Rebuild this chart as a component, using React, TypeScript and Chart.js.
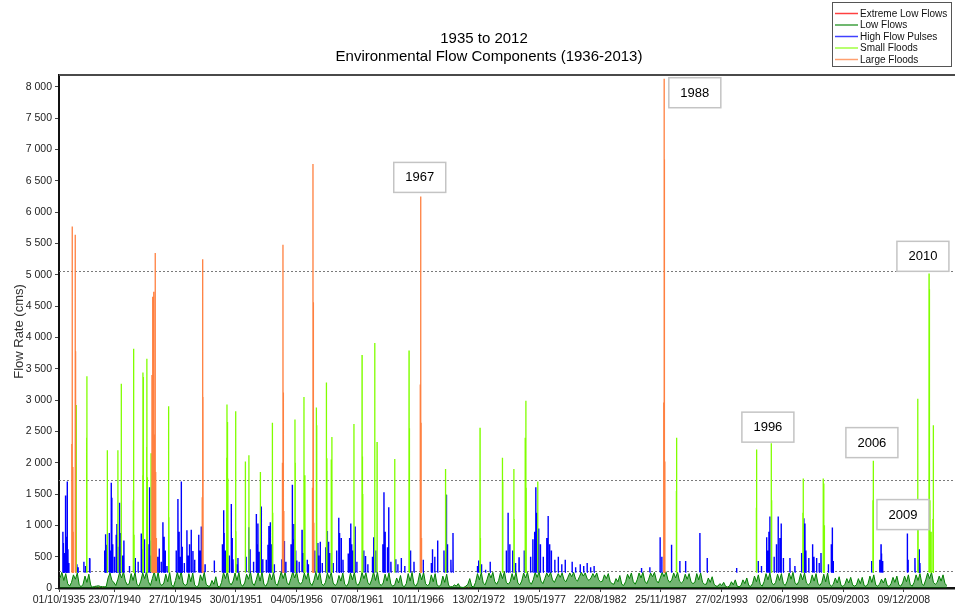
import React, { useEffect, useRef } from 'react';
import { Chart, registerables } from 'chart.js';

Chart.register(...registerables);

// ---------- text ----------
const titleLines = ['1935 to 2012', 'Environmental Flow Components (1936-2013)'];
const yAxisTitle = 'Flow Rate (cms)';
const seriesNames = ['Extreme Low Flows', 'Low Flows', 'High Flow Pulses', 'Small Floods', 'Large Floods'];
const seriesColors = ['#ff0000', '#008000', '#0000ff', '#80ff00', '#ff8040'];

// ---------- axes ----------
const xTickLabels = [
  '01/10/1935', '23/07/1940', '27/10/1945', '30/01/1951', '04/05/1956', '07/08/1961', '10/11/1966',
  '13/02/1972', '19/05/1977', '22/08/1982', '25/11/1987', '27/02/1993', '02/06/1998', '05/09/2003', '09/12/2008',
];
const xAxisEndYear = 2013.37;
const yAxisMax = 8190;
const yTickValues = [0, 500, 1000, 1500, 2000, 2500, 3000, 3500, 4000, 4500, 5000, 5500, 6000, 6500, 7000, 7500, 8000];

// ---------- thresholds (dashed lines) ----------
const thresholdValues = [5060, 1730, 270];

// ---------- annotations (decimal year, flow) ----------
const annotationLabels = ['1967', '1988', '1996', '2006', '2009', '2010'];
const annotationYears = [1967.0, 1990.83, 1997.16, 2006.17, 2008.86, 2010.59];
const annotationValues = [6555, 7907, 2568, 2321, 1172, 5295];

// ---------- Low flows: six readings per water year, water years 1936..2012 ----------
const lowFlowFirstYear = 1935.75;
const lowFlows: number[][] = [
  [160, 250, 120, 230, 70, 30], // 1936
  [90, 210, 140, 240, 50, 20],
  [60, 190, 90, 220, 40, 15],
  [25, 30, 35, 25, 20, 20],
  [20, 160, 240, 120, 90, 40], // 1940
  [130, 250, 160, 260, 110, 50],
  [70, 230, 120, 250, 60, 30],
  [110, 240, 150, 260, 100, 40],
  [150, 260, 110, 250, 70, 40],
  [80, 220, 100, 250, 50, 20], // 1945
  [120, 250, 140, 260, 80, 40],
  [60, 230, 100, 240, 50, 20],
  [40, 210, 120, 250, 60, 30],
  [30, 120, 60, 180, 30, 15],
  [90, 250, 150, 260, 90, 50], // 1950
  [110, 240, 120, 250, 60, 30],
  [80, 220, 140, 260, 80, 40],
  [130, 250, 110, 260, 60, 30],
  [90, 230, 130, 250, 70, 40],
  [140, 260, 150, 250, 90, 50], // 1955
  [150, 260, 160, 260, 100, 60],
  [100, 240, 140, 250, 80, 40],
  [120, 250, 130, 260, 70, 40],
  [90, 240, 150, 250, 80, 40],
  [70, 200, 110, 240, 60, 30], // 1960
  [80, 240, 130, 250, 70, 40],
  [110, 250, 150, 240, 90, 50],
  [130, 260, 120, 250, 70, 40],
  [80, 220, 110, 240, 60, 30],
  [50, 160, 80, 200, 40, 20], // 1965
  [70, 230, 110, 250, 60, 30],
  [90, 240, 130, 250, 70, 40],
  [60, 210, 100, 230, 50, 25],
  [50, 190, 90, 220, 40, 20],
  [20, 50, 30, 70, 15, 10], // 1970
  [10, 30, 60, 150, 30, 15],
  [90, 230, 130, 250, 80, 50],
  [140, 240, 160, 250, 100, 60],
  [120, 250, 150, 260, 90, 60],
  [100, 230, 130, 250, 80, 50], // 1975
  [110, 240, 160, 250, 100, 60],
  [130, 250, 170, 260, 110, 70],
  [150, 240, 180, 250, 130, 90],
  [160, 230, 170, 240, 130, 100],
  [170, 240, 180, 250, 140, 110], // 1980
  [180, 250, 190, 240, 150, 120],
  [160, 230, 170, 240, 130, 100],
  [110, 210, 150, 230, 100, 70],
  [60, 150, 100, 200, 60, 40],
  [100, 220, 150, 240, 100, 60], // 1985
  [130, 240, 160, 250, 110, 70],
  [140, 240, 180, 250, 120, 80],
  [160, 250, 180, 260, 130, 90],
  [130, 240, 160, 250, 110, 80],
  [110, 220, 140, 230, 100, 70], // 1990
  [90, 230, 130, 240, 90, 60],
  [60, 160, 90, 180, 60, 30],
  [30, 70, 40, 90, 25, 15],
  [30, 100, 50, 130, 30, 20],
  [40, 130, 70, 160, 40, 25], // 1995
  [70, 190, 100, 210, 60, 30],
  [100, 230, 130, 240, 80, 50],
  [90, 220, 120, 230, 70, 40],
  [110, 240, 140, 250, 90, 50],
  [100, 230, 130, 240, 80, 50], // 2000
  [80, 210, 110, 230, 70, 40],
  [90, 220, 100, 240, 60, 30],
  [60, 160, 80, 180, 40, 25],
  [60, 150, 80, 170, 50, 30],
  [50, 150, 70, 170, 40, 25], // 2005
  [70, 190, 90, 210, 50, 30],
  [60, 140, 80, 160, 40, 25],
  [70, 170, 90, 190, 50, 30],
  [80, 190, 100, 210, 50, 30],
  [90, 210, 120, 230, 70, 40], // 2010
  [130, 240, 150, 250, 90, 60],
  [90, 190, 110, 210, 70, 40], // 2012
];

// ---------- Extreme low flows: [decimal year, flow] ----------
const extremeLowFlows: number[][] = [
  [1938.9, 12], [1939.2, 10], [1939.5, 10], [1970.9, 8], [1971.2, 6], [1993.6, 10],
];

// ---------- High flow pulses: [decimal year, peak flow] ----------
const highFlowPulses: number[][] = [
  [1936.08, 900], [1936.12, 720], [1936.20, 560], [1936.31, 1475], [1936.38, 820], [1936.46, 1700],
  [1936.52, 620], [1936.60, 400], [1937.30, 380], [1937.40, 330], [1937.90, 420], [1938.05, 350],
  [1938.39, 480], [1938.42, 470], [1939.70, 600], [1939.78, 860], [1939.82, 500], [1939.88, 690],
  [1940.10, 880], [1940.20, 600], [1940.27, 1680], [1940.32, 1440], [1940.40, 700], [1940.55, 500],
  [1940.70, 850], [1940.76, 1020], [1940.85, 660], [1940.99, 1360], [1941.05, 880], [1941.25, 520],
  [1941.37, 760], [1941.85, 350], [1942.35, 480], [1942.60, 420], [1942.87, 870], [1942.95, 620],
  [1943.10, 500], [1943.15, 780], [1943.45, 700], [1943.59, 1610], [1943.62, 760], [1943.68, 520],
  [1944.30, 500], [1944.43, 630], [1944.60, 420], [1944.75, 1050], [1944.85, 820], [1944.95, 600],
  [1945.10, 350], [1945.90, 600], [1946.05, 1420], [1946.15, 900], [1946.25, 500], [1946.34, 1700],
  [1946.42, 660], [1946.60, 400], [1946.83, 920], [1946.95, 520], [1947.05, 700], [1947.20, 930],
  [1947.35, 590], [1947.50, 450], [1947.85, 850], [1947.95, 600], [1948.07, 980], [1948.40, 380],
  [1949.20, 440], [1949.90, 700], [1950.01, 1240], [1950.05, 880], [1950.15, 600], [1950.50, 520],
  [1950.67, 1340], [1950.75, 800], [1950.82, 460], [1951.15, 380], [1951.25, 480], [1951.95, 500],
  [1952.18, 970], [1952.30, 620], [1952.60, 420], [1952.84, 1180], [1952.90, 700], [1952.98, 1030],
  [1953.10, 580], [1953.27, 1300], [1953.40, 460], [1953.70, 450], [1953.85, 690], [1953.93, 990],
  [1954.05, 1050], [1954.15, 700], [1954.40, 380], [1955.05, 460], [1955.27, 750], [1955.40, 420],
  [1955.85, 700], [1955.96, 1650], [1956.00, 780], [1956.10, 1020], [1956.25, 600], [1956.35, 440],
  [1956.55, 420], [1956.80, 930], [1956.90, 560], [1957.25, 450], [1957.35, 380], [1957.90, 600],
  [1958.17, 720], [1958.25, 520], [1958.38, 740], [1958.55, 400], [1958.85, 650], [1958.99, 910],
  [1959.10, 740], [1959.20, 560], [1959.50, 400], [1959.80, 600], [1959.98, 1120], [1960.05, 880],
  [1960.20, 800], [1960.35, 450], [1960.80, 550], [1960.92, 800], [1961.02, 1030], [1961.10, 700],
  [1961.20, 600], [1961.40, 980], [1961.55, 420], [1962.15, 600], [1962.30, 510], [1962.50, 380],
  [1962.90, 500], [1963.01, 810], [1963.20, 600], [1963.80, 700], [1963.90, 1530], [1964.00, 900],
  [1964.20, 650], [1964.31, 1290], [1964.50, 420], [1964.92, 460], [1965.10, 380], [1965.40, 480],
  [1965.70, 350], [1966.20, 600], [1966.50, 420], [1967.30, 450], [1968.00, 400], [1968.10, 620],
  [1968.30, 500], [1968.55, 760], [1969.10, 600], [1969.31, 1490], [1969.40, 700], [1969.70, 450],
  [1969.88, 880], [1972.00, 350], [1972.10, 440], [1972.35, 380], [1972.70, 290], [1973.10, 420],
  [1974.50, 600], [1974.65, 1200], [1974.80, 700], [1975.05, 600], [1975.30, 400], [1975.60, 490],
  [1976.05, 600], [1976.60, 500], [1976.80, 780], [1976.95, 900], [1977.05, 1610], [1977.15, 1200],
  [1977.30, 950], [1977.45, 700], [1977.70, 500], [1978.00, 800], [1978.12, 1150], [1978.25, 700],
  [1978.40, 600], [1978.70, 450], [1979.00, 500], [1979.30, 380], [1979.60, 450], [1980.20, 420],
  [1980.50, 330], [1980.90, 380], [1981.20, 350], [1981.50, 400], [1981.80, 330], [1982.10, 350],
  [1986.21, 320], [1986.93, 330], [1987.82, 810], [1987.97, 500], [1988.81, 690], [1989.53, 430],
  [1990.03, 430], [1991.27, 880], [1991.90, 480], [1994.45, 320], [1996.32, 430], [1996.60, 350],
  [1997.05, 810], [1997.15, 600], [1997.25, 900], [1997.33, 1140], [1997.70, 500], [1997.90, 700],
  [1998.05, 1140], [1998.20, 800], [1998.31, 1030], [1998.50, 480], [1999.07, 480], [1999.50, 350],
  [2000.08, 560], [2000.28, 1115], [2000.37, 1030], [2000.45, 600], [2000.70, 480], [2001.03, 700],
  [2001.15, 500], [2001.38, 480], [2001.60, 400], [2001.76, 560], [2002.40, 380], [2002.65, 700],
  [2002.74, 965], [2002.82, 430], [2006.15, 430], [2006.85, 450], [2006.96, 700], [2007.00, 550],
  [2007.10, 430], [2009.24, 870], [2009.30, 450], [2009.90, 480], [2010.20, 450], [2010.27, 620],
  [2010.33, 400],
];

// ---------- Small floods: [decimal year, peak flow] ----------
const smallFloods: number[][] = [
  [1937.24, 2920], [1938.14, 2400], [1938.16, 3380], [1939.93, 2200], [1940.85, 2200], [1941.14, 3260],
  [1942.18, 1400], [1942.21, 3820], [1942.25, 850], [1943.00, 1800], [1943.02, 3440], [1943.05, 3370],
  [1943.34, 2250], [1943.36, 3660], [1943.40, 1770], [1943.72, 2150], [1945.24, 2900], [1945.27, 1130],
  [1950.27, 2080], [1950.30, 2930], [1950.32, 1300], [1950.34, 2650], [1950.38, 1750], [1951.05, 2820],
  [1951.08, 900], [1951.89, 2020], [1952.20, 2120], [1953.19, 1850], [1954.23, 2640], [1954.26, 1200],
  [1956.19, 2690], [1956.21, 2000], [1956.97, 3050], [1957.00, 1630], [1957.05, 1800], [1958.04, 2880],
  [1958.07, 2600], [1958.91, 3280], [1958.95, 2070], [1959.33, 2050], [1959.39, 2410], [1961.30, 2620],
  [1962.00, 3720], [1962.03, 2100], [1962.06, 1500], [1963.10, 3910], [1963.30, 2330], [1964.83, 2060],
  [1966.07, 3790], [1966.10, 2550], [1969.23, 1900], [1969.26, 1500], [1972.22, 2560], [1972.25, 800],
  [1974.16, 2080], [1974.19, 1700], [1975.15, 1900], [1975.18, 1100], [1976.13, 2400], [1976.19, 2990],
  [1976.22, 1600], [1977.22, 1700], [1989.23, 1550], [1989.25, 2400], [1996.16, 1280], [1996.18, 2210],
  [1997.45, 2310], [1997.48, 1400], [2000.19, 1200], [2000.22, 1750], [2001.95, 1750], [2002.00, 1670],
  [2002.05, 1000], [2006.26, 1400], [2006.29, 2030], [2010.14, 3020], [2010.17, 1300], [2011.12, 5020],
  [2011.15, 4770], [2011.20, 1400], [2011.30, 900], [2011.45, 1100], [2011.49, 2600],
];

// ---------- Large floods: [decimal year, peak flow] ----------
const largeFloods: number[][] = [
  [1936.85, 2300], [1936.89, 5770], [1936.95, 1930], [1936.98, 900], [1937.15, 5640], [1937.18, 3780],
  [1943.80, 3400], [1943.86, 4650], [1943.95, 4730], [1944.02, 2450], [1944.08, 5350], [1944.12, 1850],
  [1944.18, 800], [1948.15, 1450], [1948.19, 5250], [1948.22, 3050], [1955.10, 2000], [1955.15, 5480],
  [1955.18, 3120], [1955.22, 1230], [1957.70, 1600], [1957.75, 6770], [1957.78, 4560], [1957.82, 1040],
  [1967.04, 3250], [1967.08, 6250], [1967.11, 2640], [1967.15, 800], [1988.13, 2960], [1988.17, 8130],
  [1988.19, 6840], [1988.23, 2020],
];

const spikeBase = 250;
const FONT = "'Liberation Sans', Arial, sans-serif";
const TICK_FONT = { family: FONT, size: 10.5 };

function dateToYear(s: string): number {
  const [d, m, y] = s.split('/').map(Number);
  const start = Date.UTC(y, 0, 1);
  const end = Date.UTC(y + 1, 0, 1);
  return y + (Date.UTC(y, m - 1, d) - start) / (end - start);
}

function spikePoints(events: number[][]) {
  const pts: { x: number; y: number | null }[] = [];
  [...events].sort((a, b) => a[0] - b[0]).forEach(([t, v]) => {
    pts.push({ x: t - 0.004, y: spikeBase }, { x: t, y: v }, { x: t + 0.012, y: spikeBase }, { x: t + 0.012, y: null });
  });
  return pts;
}

function lowFlowPoints() {
  const pts: { x: number; y: number }[] = [];
  lowFlows.forEach((row, i) => {
    row.forEach((v, j) => pts.push({ x: lowFlowFirstYear + i + (j + 0.5) / row.length, y: v }));
  });
  return pts;
}

function extremePoints() {
  const pts: { x: number; y: number | null }[] = [];
  extremeLowFlows.forEach(([t, v]) => {
    pts.push({ x: t, y: v }, { x: t + 0.08, y: v }, { x: t + 0.08, y: null });
  });
  return pts;
}

function fmt(v: number) {
  return String(v).replace(/\B(?=(\d{3})+(?!\d))/g, ' ');
}

const decorPlugin = {
  id: 'decor',
  beforeDatasetsDraw(chart: any) {
    const { ctx, chartArea, scales } = chart;
    ctx.save();
    ctx.strokeStyle = '#7a7a7a';
    ctx.lineWidth = 1;
    ctx.setLineDash([2, 2]);
    thresholdValues.forEach((v) => {
      const py = Math.round(scales.y.getPixelForValue(v)) + 0.5;
      ctx.beginPath();
      ctx.moveTo(chartArea.left, py);
      ctx.lineTo(chartArea.right, py);
      ctx.stroke();
    });
    ctx.restore();
  },
  afterDatasetsDraw(chart: any) {
    const { ctx, scales } = chart;
    ctx.save();
    ctx.font = `13px ${FONT}`;
    ctx.textAlign = 'center';
    ctx.textBaseline = 'middle';
    annotationLabels.forEach((lab, i) => {
      const cx = scales.x.getPixelForValue(annotationYears[i]);
      const cy = scales.y.getPixelForValue(annotationValues[i]);
      const w = 52, h = 30;
      ctx.fillStyle = '#ffffff';
      ctx.fillRect(cx - w / 2, cy - h / 2, w, h);
      ctx.strokeStyle = '#c4c4c4';
      ctx.lineWidth = 1.5;
      ctx.strokeRect(cx - w / 2, cy - h / 2, w, h);
      ctx.fillStyle = '#000';
      ctx.fillText(lab, cx, cy + 0.5);
    });
    ctx.restore();
  },
  afterDraw(chart: any) {
    const { ctx, chartArea } = chart;
    ctx.save();
    ctx.strokeStyle = '#4a4a4a';
    ctx.lineWidth = 2;
    ctx.beginPath();
    ctx.moveTo(chartArea.left, chartArea.top);
    ctx.lineTo(chartArea.right, chartArea.top);
    ctx.stroke();
    ctx.fillStyle = '#000';
    ctx.font = `15px ${FONT}`;
    ctx.textAlign = 'center';
    ctx.textBaseline = 'alphabetic';
    ctx.fillText(titleLines[0], 484, 43);
    ctx.fillText(titleLines[1], 489, 61);
    ctx.save();
    ctx.translate(19, (chartArea.top + chartArea.bottom) / 2);
    ctx.rotate(-Math.PI / 2);
    ctx.font = `13px ${FONT}`;
    ctx.fillStyle = '#333';
    ctx.textBaseline = 'middle';
    ctx.fillText(yAxisTitle, 0, 0);
    ctx.restore();
    const lx = 832.5, ly = 2.5, lw = 119, lh = 64;
    ctx.fillStyle = '#fff';
    ctx.fillRect(lx, ly, lw, lh);
    ctx.strokeStyle = '#555';
    ctx.lineWidth = 1;
    ctx.strokeRect(lx, ly, lw, lh);
    ctx.font = `10px ${FONT}`;
    ctx.textAlign = 'left';
    ctx.textBaseline = 'middle';
    seriesNames.forEach((name, i) => {
      const yy = 13.5 + i * 11.5;
      ctx.strokeStyle = seriesColors[i];
      ctx.globalAlpha = 0.75;
      ctx.lineWidth = 1.5;
      ctx.beginPath();
      ctx.moveTo(835, yy);
      ctx.lineTo(858, yy);
      ctx.stroke();
      ctx.globalAlpha = 1;
      ctx.fillStyle = '#111';
      ctx.fillText(name, 860, yy + 0.5);
    });
    ctx.restore();
  },
};

export default function App() {
  const ref = useRef<HTMLCanvasElement | null>(null);

  useEffect(() => {
    if (!ref.current) return;
    const xTickValues = xTickLabels.map(dateToYear);
    const seriesData = [
      extremePoints(),
      lowFlowPoints(),
      spikePoints(highFlowPulses),
      spikePoints(smallFloods),
      spikePoints(largeFloods),
    ];
    const drawOrder = [5, 4, 3, 2, 1];
    const widths = [1, 1, 1.4, 1.3, 1.3];
    const chart = new Chart(ref.current, {
      type: 'line',
      data: {
        datasets: seriesNames.map((name, i) => ({
          label: name,
          data: seriesData[i] as any,
          borderColor: seriesColors[i],
          backgroundColor: i === 1 ? 'rgba(0,120,0,0.55)' : seriesColors[i],
          fill: i === 1 ? 'origin' : false,
          borderWidth: widths[i],
          pointRadius: 0,
          tension: 0,
          spanGaps: false,
          order: drawOrder[i],
        })),
      },
      options: {
        animation: false,
        responsive: false,
        devicePixelRatio: 1,
        parsing: false as any,
        layout: { padding: { top: 75, left: 0, right: 0, bottom: 0 } },
        plugins: { legend: { display: false }, title: { display: false }, tooltip: { enabled: false } },
        scales: {
          x: {
            type: 'linear',
            min: xTickValues[0],
            max: xAxisEndYear,
            afterBuildTicks: (scale: any) => {
              scale.ticks = xTickValues.map((v) => ({ value: v }));
            },
            afterFit: (scale: any) => {
              scale.height = 22;
            },
            ticks: {
              autoSkip: false,
              maxRotation: 0,
              color: '#222',
              font: TICK_FONT,
              padding: 2,
              callback: (_v: any, idx: number) => xTickLabels[idx] ?? '',
            },
            grid: { drawOnChartArea: false, drawTicks: true, tickLength: 4, color: '#444' },
            border: { display: true, color: '#111', width: 2.5 },
          },
          y: {
            type: 'linear',
            min: 0,
            max: yAxisMax,
            afterBuildTicks: (scale: any) => {
              scale.ticks = yTickValues.map((v) => ({ value: v }));
            },
            afterFit: (scale: any) => {
              scale.width = 59;
            },
            ticks: {
              autoSkip: false,
              color: '#222',
              font: TICK_FONT,
              padding: 3,
              callback: (_v: any, idx: number) => fmt(yTickValues[idx] ?? 0),
            },
            grid: { drawOnChartArea: false, drawTicks: true, tickLength: 4, color: '#444' },
            border: { display: true, color: '#111', width: 2 },
          },
        },
      },
      plugins: [decorPlugin],
    });
    return () => chart.destroy();
  }, []);

  return (
    <div style={{ position: 'absolute', left: 0, top: 0, width: 955, height: 610, background: '#fff' }}>
      <canvas ref={ref} width={955} height={610} style={{ display: 'block', width: 955, height: 610 }} />
    </div>
  );
}
